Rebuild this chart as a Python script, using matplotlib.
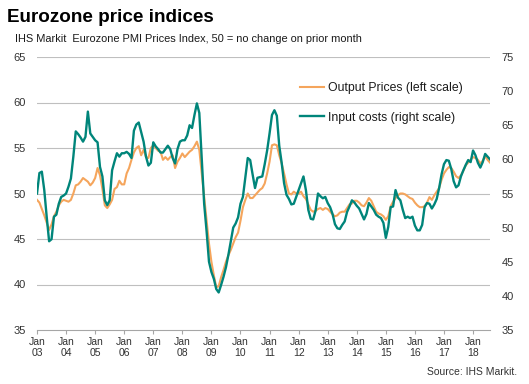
import matplotlib
matplotlib.use("Agg")
import matplotlib.pyplot as plt
import numpy as np

plt.rcParams["font.family"] = ["Liberation Sans", "DejaVu Sans"]

# monthly readings, Jan 2003 - Aug 2018
output_prices = [
    49.3, 49.0, 48.3, 47.6, 46.8, 46.0, 46.6, 47.5, 48.0, 48.7, 49.1, 49.3,
    49.2, 49.1, 49.3, 50.0, 50.9, 51.0, 51.3, 51.7, 51.5, 51.3, 50.9, 51.2,
    51.7, 52.8, 52.0, 50.5, 48.7, 48.4, 48.8, 49.3, 50.5, 50.7, 51.4, 51.0,
    51.0, 52.2, 52.8, 53.7, 54.5, 55.0, 55.2, 54.2, 54.8, 54.0, 53.9, 55.0,
    55.3, 55.0, 54.7, 54.6, 53.7, 54.0, 53.7, 54.0, 54.2, 52.8, 53.5, 53.9,
    54.4, 54.0, 54.3, 54.6, 54.8, 55.2, 55.7, 54.8, 52.2, 49.5, 47.0, 44.5,
    42.5, 41.0, 39.7, 39.8, 40.8, 41.6, 42.5, 43.2, 43.8, 44.5, 45.2, 45.7,
    47.0, 48.5, 49.3, 50.0, 49.5, 49.5, 49.8, 50.1, 50.4, 50.6, 51.1, 52.2,
    53.5, 55.3, 55.4, 55.3, 54.2, 53.3, 52.2, 51.0, 50.0, 49.9, 50.2, 50.0,
    50.0, 50.2, 49.7, 49.4, 48.8, 48.2, 48.0, 48.1, 48.3, 48.4, 48.2, 48.4,
    48.3, 48.0, 47.7, 47.5, 47.6, 47.9, 48.0, 48.0, 48.4, 48.8, 48.9, 49.2,
    49.2, 49.0, 48.7, 48.6, 49.0, 49.5, 49.2, 48.6, 48.0, 47.8, 47.7, 47.5,
    47.1, 47.5, 48.6, 49.1, 49.5, 49.8, 50.0, 50.0, 49.9, 49.7, 49.5, 49.4,
    49.0, 48.7, 48.5, 48.5, 48.6, 49.0, 49.6, 49.3, 49.8, 50.2, 50.6, 51.5,
    52.2, 52.6, 52.9, 52.8, 52.4, 51.9, 51.7, 52.0, 52.5, 53.1, 53.4, 53.7,
    54.0, 53.9, 53.7, 53.3, 53.6, 54.1, 53.7, 53.4,
]

input_costs = [
    55.0, 58.0, 58.2, 55.5, 51.6, 48.0, 48.3, 51.6, 51.9, 53.5, 54.5, 54.7,
    55.0, 56.0, 57.2, 60.4, 64.1, 63.7, 63.2, 62.6, 63.3, 67.0, 63.8, 63.3,
    62.8, 62.5, 58.9, 57.5, 54.0, 53.3, 54.0, 58.4, 59.7, 60.9, 60.4, 60.9,
    60.9, 61.1, 60.8, 60.2, 64.2, 65.1, 65.4, 64.0, 62.6, 60.4, 59.1, 59.5,
    62.5, 61.9, 61.5, 61.0, 61.0, 61.5, 62.0, 61.5, 60.2, 59.4, 61.5, 62.6,
    62.8, 62.8, 63.5, 65.0, 64.6, 66.5, 68.2, 66.8, 60.0, 53.5, 49.5, 45.0,
    43.5, 42.5, 41.0, 40.5, 41.6, 42.8, 44.2, 46.0, 48.0, 50.0, 50.6, 51.5,
    53.5, 54.5, 57.3, 60.2, 59.9, 57.8, 55.8, 57.3, 57.4, 57.5, 59.3, 61.3,
    63.8, 66.5, 67.2, 66.4, 62.0, 59.5, 56.5, 54.8, 54.2, 53.4, 53.5, 54.5,
    55.5, 56.5, 57.5, 55.5, 52.6, 51.3, 51.2, 52.5, 55.0, 54.6, 54.3, 54.5,
    53.6, 53.0, 52.0, 50.5, 49.9, 49.8, 50.4, 50.9, 52.3, 53.1, 54.0, 53.7,
    53.2, 52.8, 52.0, 51.2, 52.0, 53.6, 53.1, 52.6, 51.9, 51.6, 51.4, 50.7,
    48.5, 50.1, 53.0, 53.1, 55.5, 54.4, 54.0, 52.6, 51.4, 51.6, 51.4, 51.6,
    50.3, 49.6, 49.6, 50.4, 53.0, 53.6, 53.5, 52.8, 53.4, 54.2, 55.8, 57.8,
    59.3, 59.9, 59.8, 58.6, 56.8, 55.9, 56.2, 57.5, 58.4, 59.2, 59.9, 59.6,
    61.3, 60.6, 59.5, 58.8, 59.6, 60.8, 60.4, 60.0,
]

years = ["03", "04", "05", "06", "07", "08", "09", "10",
         "11", "12", "13", "14", "15", "16", "17", "18"]

ORANGE = "#F5A55C"
TEAL = "#00857A"
TEXT = "#333333"
GRID = "#BFBFBF"

months = np.arange(len(output_prices))

fig = plt.figure(figsize=(5.29, 3.84), dpi=100)
ax = fig.add_axes([37 / 529, 1 - 330 / 384, 453 / 529, 273 / 384])
ax2 = ax.twinx()

line_out, = ax.plot(months, output_prices, color=ORANGE, lw=1.5,
                    label="Output Prices (left scale)")
line_in, = ax2.plot(months, input_costs, color=TEAL, lw=1.7,
                    label="Input costs (right scale)")

ax.set_xlim(0, len(output_prices) - 1)
ax.set_ylim(35, 65)
ax2.set_ylim(35, 75)
ax.set_yticks(np.arange(35, 66, 5))
ax2.set_yticks(np.arange(35, 76, 5))

ax.set_xticks(np.arange(len(years)) * 12)
ax.set_xticklabels([f"Jan\n{y}" for y in years])

for a in (ax, ax2):
    for side in ("top", "left", "right", "bottom"):
        a.spines[side].set_visible(False)
ax.spines["bottom"].set_visible(True)
ax.spines["bottom"].set_color("#A6A6A6")
ax.spines["bottom"].set_linewidth(0.8)

ax.tick_params(axis="y", length=0, pad=8, labelsize=8, labelcolor=TEXT)
ax2.tick_params(axis="y", length=0, pad=8.5, labelsize=8, labelcolor=TEXT)
ax.tick_params(axis="x", length=3, width=0.8, color="#A6A6A6", pad=2,
               labelsize=7.5, labelcolor=TEXT)
for label in ax.get_xticklabels():
    label.set_linespacing(1.15)

for value in range(40, 66, 5):
    ax.axhline(value, color=GRID, lw=0.8, zorder=0)

legend = ax2.legend(
    handles=[line_out, line_in],
    loc="upper left",
    bbox_to_anchor=(300 / 529, 1 - 82 / 384),
    bbox_transform=fig.transFigure,
    frameon=False,
    fontsize=8.8,
    handlelength=2.0,
    handletextpad=0.3,
    labelspacing=1.45,
    borderpad=0,
    borderaxespad=0,
)
for text in legend.get_texts():
    text.set_color("#1a1a1a")

fig.text(7 / 529, 1 - 22 / 384, "Eurozone price indices",
         fontsize=13.6, fontweight="bold", va="baseline", ha="left")
fig.text(15 / 529, 1 - 42 / 384,
         "IHS Markit  Eurozone PMI Prices Index, 50 = no change on prior month",
         fontsize=7.9, color="#1a1a1a", va="baseline", ha="left")
fig.text(517 / 529, 1 - 375 / 384, "Source: IHS Markit.",
         fontsize=7.5, color=TEXT, va="baseline", ha="right")

fig.savefig("out.png", dpi=100)
